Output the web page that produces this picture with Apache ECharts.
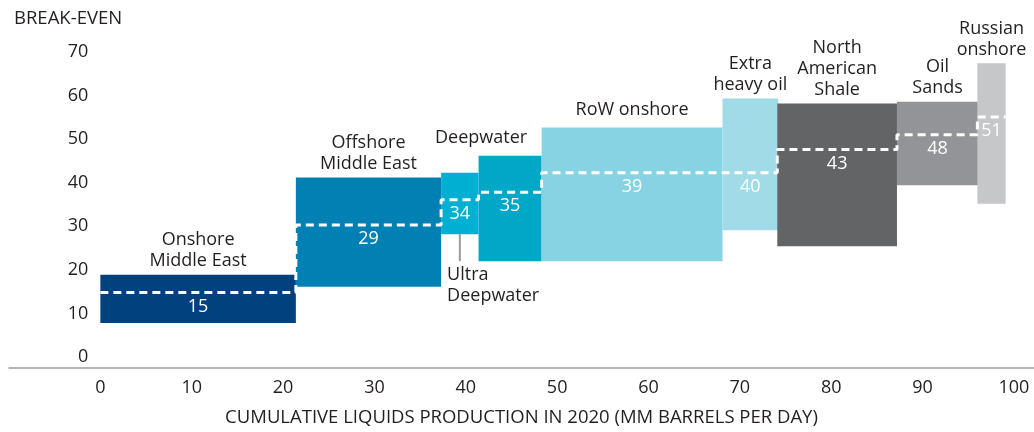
<!DOCTYPE html>
<html>
<head>
<meta charset="utf-8">
<script src="https://cdn.jsdelivr.net/npm/echarts@6/dist/echarts.min.js"></script>
<style>
  html, body { margin: 0; padding: 0; background: #fff; }
  #chart { width: 1034px; height: 432px; }
</style>
</head>
<body>
<div id="chart"></div>
<script>
// segments of the cost curve
const names = ['Onshore\nMiddle East', 'Offshore\nMiddle East', 'Ultra\nDeepwater', 'Deepwater', 'RoW onshore',
  'Extra\nheavy oil', 'North\nAmerican\nShale', 'Oil\nSands', 'Russian\nonshore']
const xStart = [0, 21.4, 37.3, 41.4, 48.3, 68.1, 74.1, 87.2, 96.0]
const xEnd = [21.4, 37.3, 41.4, 48.3, 68.1, 74.2, 87.2, 96.1, 99.1]
const low = [7.8, 16.1, 28.2, 22.0, 22.0, 29.1, 25.4, 39.4, 35.2]
const high = [18.9, 41.2, 42.3, 46.2, 52.7, 59.3, 58.2, 58.6, 67.4]
const breakEven = [15, 29, 34, 35, 39, 40, 43, 48, 51]
// level of the dashed step line as drawn
const dashLevel = [14.8, 30.3, 36.1, 37.8, 42.3, 42.3, 47.6, 51.0, 55.1]
const xTicks = [0, 10, 20, 30, 40, 50, 60, 70, 80, 90, 100]

const COLORS = ['#01417e', '#0180b3', '#00afd1', '#00a7c6', '#87d3e3', '#a1dbe8', '#636466', '#929497', '#c6c7c9']
const FONT = '"Open Sans", sans-serif'
const TEXT = '#231f20'

const boxData = names.map((n, i) => [xStart[i], xEnd[i], low[i], high[i], breakEven[i], dashLevel[i]])

// step line through the break-even levels
const stepData = xStart.map((x, i) => [x, dashLevel[i]])
stepData.push([xEnd[xEnd.length - 1], dashLevel[dashLevel.length - 1]])

function renderBox(params, api) {
  const i = params.dataIndex
  const tl = api.coord([api.value(0), api.value(3)])
  const br = api.coord([api.value(1), api.value(2)])
  const dash = api.coord([(api.value(0) + api.value(1)) / 2, api.value(5)])
  const cx = (tl[0] + br[0]) / 2
  const name = names[i]
  const children = [{
    type: 'rect',
    shape: { x: tl[0], y: tl[1], width: br[0] - tl[0], height: br[1] - tl[1] },
    style: { fill: COLORS[i] }
  }, {
    type: 'text',
    z2: 20,
    style: {
      text: String(api.value(4)), x: cx, y: dash[1] + 14,
      align: 'center', verticalAlign: 'middle',
      font: '18px ' + FONT, fill: '#fff'
    }
  }]
  if (name === 'Ultra\nDeepwater') {
    children.push({
      type: 'line',
      shape: { x1: cx, y1: br[1], x2: cx, y2: br[1] + 27 },
      style: { stroke: '#9a9a9c', lineWidth: 2 }
    })
    children.push({
      type: 'text',
      style: {
        text: name, x: tl[0] + 6, y: br[1] + 30,
        align: 'left', verticalAlign: 'top', lineHeight: 21,
        font: '18px ' + FONT, fill: TEXT
      }
    })
  } else {
    const shift = name === 'Deepwater' ? -29 : 0
    const gap = (name === 'RoW onshore' || name === 'Deepwater') ? 7 : 3
    children.push({
      type: 'text',
      style: {
        text: name, x: cx + shift, y: tl[1] - gap,
        align: 'center', verticalAlign: 'bottom', lineHeight: 21,
        font: '18px ' + FONT, fill: TEXT
      }
    })
  }
  return { type: 'group', children }
}

const chart = echarts.init(document.getElementById('chart'), null, { renderer: 'canvas' })
chart.setOption({
  animation: false,
  title: {
    text: 'BREAK-EVEN', left: 9, top: 4,
    textStyle: { fontFamily: FONT, fontSize: 18.5, fontWeight: 'normal', color: TEXT }
  },
  grid: { left: 9, right: 0, top: 52, bottom: 74.5 },
  xAxis: {
    type: 'value', min: -10, max: 102.2, interval: 10,
    offset: 11,
    name: 'CUMULATIVE LIQUIDS PRODUCTION IN 2020 (MM BARRELS PER DAY)',
    nameLocation: 'middle', nameGap: 40,
    nameTextStyle: { fontFamily: FONT, fontSize: 18.5, color: TEXT },
    axisLine: { onZero: false, lineStyle: { color: '#9d9fa2', width: 1.5 } },
    axisTick: { show: false },
    splitLine: { show: false },
    axisLabel: {
      margin: 11, fontFamily: FONT, fontSize: 18, color: TEXT,
      showMaxLabel: false, showMinLabel: false,
      formatter: v => xTicks.includes(v) ? String(v) : ''
    }
  },
  yAxis: {
    type: 'value', min: 0, max: 70, interval: 10,
    offset: -91.35,
    axisLine: { show: false, onZero: false },
    axisTick: { show: false },
    splitLine: { show: false },
    axisLabel: { margin: 12, fontFamily: FONT, fontSize: 18, color: TEXT }
  },
  series: [{
    type: 'custom',
    renderItem: renderBox,
    data: boxData,
    encode: { x: [0, 1], y: [2, 3] },
    clip: false
  }, {
    type: 'line',
    data: stepData,
    step: 'end',
    z: 3,
    showSymbol: false,
    lineStyle: { color: '#fff', width: 3, type: [8, 5] }
  }]
})
</script>
</body>
</html>
